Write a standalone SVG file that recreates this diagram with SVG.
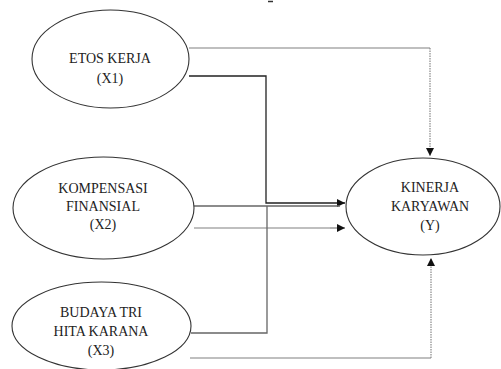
<svg xmlns="http://www.w3.org/2000/svg" width="501" height="369" viewBox="0 0 501 369">
<style>
.node ellipse{fill:#fff;stroke:#333;stroke-width:1.1}
.node text{font-family:'Liberation Serif','DejaVu Serif',serif;font-size:14px;fill:#222;text-anchor:middle}
.dark{fill:none;stroke:#222;stroke-width:1.3}
.mid{fill:none;stroke:#666;stroke-width:1.3}
.light{fill:none;stroke:#aaa;stroke-width:1.3}
.dot{fill:none;stroke:#888;stroke-width:1.2;stroke-dasharray:1.5 1}
</style>
<defs>
<marker id="ah" viewBox="0 0 10 10" refX="10" refY="5" markerWidth="8" markerHeight="8" markerUnits="userSpaceOnUse" orient="auto">
<path d="M0,0 L10,5 L0,10 Z" fill="#111"/>
</marker>
</defs>
<line x1="268" y1="1.5" x2="273" y2="1.5" stroke="#333" stroke-width="1.5"/>
<g id="connectors">
<polyline class="light" points="189,48 430,48"/>
<polyline class="dot" points="430,48 430,156" marker-end="url(#ah)"/>
<polyline class="dark" points="189,76 266,76 266,203 345,203" marker-end="url(#ah)"/>
<polyline class="mid" points="194,206 340,206"/>
<polyline class="light" points="194,228 345,228"/>
<polyline class="light" points="330,228 345,228" marker-end="url(#ah)"/>
<polyline class="mid" points="191,333 267,333 267,206"/>
<polyline class="light" points="190,358 431,358"/>
<polyline class="dot" points="431,358 431,258" marker-end="url(#ah)"/>
</g>
<g id="x1" class="node">
<ellipse cx="110.5" cy="59" rx="78.5" ry="49"/>
<text x="110" y="63">ETOS KERJA</text>
<text x="110" y="83">(X1)</text>
</g>
<g id="x2" class="node">
<ellipse cx="103.5" cy="208" rx="90.5" ry="51"/>
<text x="103" y="193">KOMPENSASI</text>
<text x="103" y="211">FINANSIAL</text>
<text x="103" y="229">(X2)</text>
</g>
<g id="x3" class="node">
<ellipse cx="101.5" cy="326" rx="89.5" ry="44"/>
<text x="101" y="317">BUDAYA TRI</text>
<text x="101" y="336">HITA KARANA</text>
<text x="101" y="355">(X3)</text>
</g>
<g id="y" class="node">
<ellipse cx="423" cy="206.5" rx="77" ry="48.5"/>
<text x="430" y="192">KINERJA</text>
<text x="430" y="211">KARYAWAN</text>
<text x="430" y="230">(Y)</text>
</g>
</svg>
